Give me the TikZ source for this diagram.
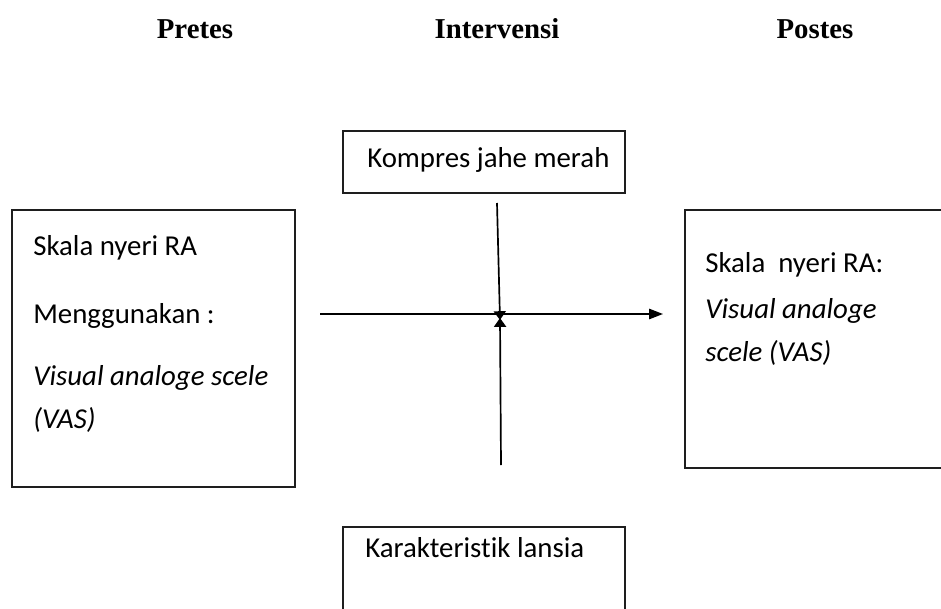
\documentclass[tikz,border=0pt]{standalone}
\usepackage{fontspec}
\setmainfont{Carlito}[Ligatures=NoCommon]
\newfontfamily\headfont{Liberation Serif}
\usepackage{xcolor}
\usetikzlibrary{arrows.meta}
\definecolor{garis}{RGB}{30,30,30}
\tikzset{
	kotak/.style={draw=garis,line width=0.8pt},
	panah/.style={line width=1.2pt,-{Triangle[length=0.35cm,width=0.26cm]}},
	panahkecil/.style={line width=1.2pt,-{Triangle[length=0.22cm,width=0.3cm]}},
	isi/.style={anchor=base west,inner sep=0pt,font=\fontsize{20.5}{24}\selectfont},
	judul/.style={font=\headfont\bfseries\fontsize{20.5}{24}\selectfont}
}

\begin{document}
\begin{tikzpicture}
					\clip (0,0) rectangle (23.525,15.2);
					
					\coordinate (A) at (8.0,7.35);
					\coordinate (B) at (16.575,7.35);
					\coordinate (C) at (12.425,10.125);
					\coordinate (D) at (12.5,7.2);
					\coordinate (E) at (12.525,3.575);
					\coordinate (F) at (12.5,7.25);
					
					\draw[kotak] (8.575,10.375) rectangle (15.625,11.925);
					\draw[kotak] (0.3,3.025) rectangle (7.375,9.95);
					\draw[kotak] (17.125,3.5) rectangle (24,9.95);
					\draw[kotak] (8.575,-0.5) rectangle (15.625,2.025);
					
					\draw[panah] (A) -- (B);
					\draw[panahkecil] (C) -- (D);
					\draw[panahkecil] (E) -- (F);
					
					\node[judul] (pre) at (4.875,14.475) {Pretes};
					\node[judul] (int) at (12.425,14.475) {Intervensi};
					\node[judul] (post) at (20.375,14.475) {Postes};
					
					\node[isi] (kompres) at (9.175,11.0) {Kompres jahe merah};
					\node[isi] (skala1) at (0.825,8.825) {Skala nyeri RA};
					\node[isi] (guna) at (0.825,7.125) {Menggunakan :};
					\node[isi] (vas1) at (0.825,5.575) {\itshape Visual analoge scele};
					\node[isi] (vas2) at (0.825,4.5) {\itshape (VAS)};
					\node[isi] (skala2) at (17.625,8.4) {Skala\ \ nyeri RA:};
					\node[isi] (vas3) at (17.625,7.25) {\itshape Visual analoge};
					\node[isi] (vas4) at (17.625,6.175) {\itshape scele (VAS)};
					\node[isi] (lansia) at (9.125,1.275) {Karakteristik lansia};
				\end{tikzpicture}
\end{document}
